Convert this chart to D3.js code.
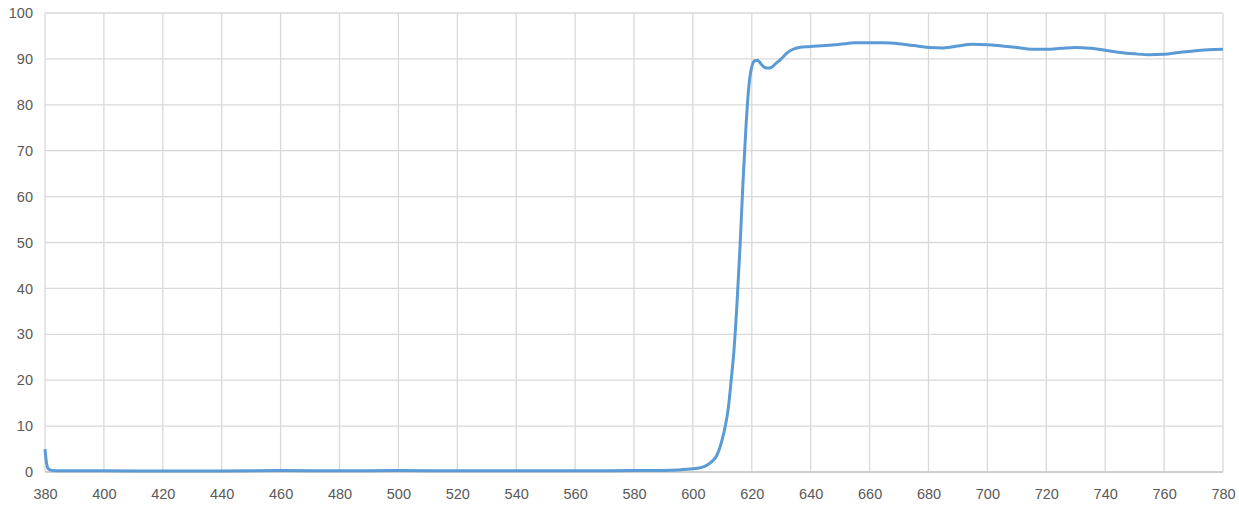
<!DOCTYPE html>
<html>
<head>
<meta charset="utf-8">
<script src="https://cdn.jsdelivr.net/npm/d3@7"></script>
<style>
  html, body { margin: 0; padding: 0; background: #ffffff; }
  svg { display: block; }
  .tick text { font-family: "Liberation Sans", "DejaVu Sans", sans-serif; font-size: 14.5px; fill: #595959; }
</style>
</head>
<body>
<svg id="chart" width="1239" height="511"></svg>
<script>
const wavelengths = [380,380.5,381,382,384,400,420,440,460,480,500,520,540,560,580,590,595,600,603,605,607,608,609,610,611,612,613,614,615,616,617,618,619,620,621,622,623,624,625,626,627,628,630,632,634,636,640,645,650,655,660,665,670,675,680,685,690,695,700,705,710,715,720,725,730,735,740,745,750,755,760,765,770,775,780];
const transmittance = [5.0,2.0,0.8,0.4,0.25,0.25,0.2,0.2,0.3,0.25,0.3,0.25,0.25,0.25,0.3,0.35,0.45,0.7,1.0,1.6,2.6,3.5,5.0,7.2,10.0,13.8,20,27,37,49,63,75,84,88.3,89.6,89.7,89.0,88.3,88.0,88.0,88.3,88.9,90.0,91.3,92.1,92.5,92.7,92.9,93.2,93.5,93.5,93.5,93.3,92.9,92.5,92.4,92.8,93.2,93.1,92.8,92.5,92.1,92.1,92.3,92.5,92.3,91.9,91.4,91.1,90.9,91.0,91.4,91.7,92.0,92.1];
const xTicks = d3.range(380, 781, 20);
const yTicks = d3.range(0, 101, 10);

const svg = d3.select("#chart");
const W = 1239, H = 511;
const m = {left: 45, right: 16, top: 13, bottom: 39};

const x = d3.scaleLinear().domain([380, 780]).range([m.left, W - m.right]);
const y = d3.scaleLinear().domain([0, 100]).range([H - m.bottom, m.top]);

// gridlines
svg.append("g").selectAll("line.v").data(xTicks).join("line")
  .attr("x1", d => x(d)).attr("x2", d => x(d))
  .attr("y1", y(0)).attr("y2", y(100))
  .attr("stroke", "#d9d9d9").attr("stroke-width", 1.3);
svg.append("g").selectAll("line.h").data(yTicks).join("line")
  .attr("x1", x(380)).attr("x2", x(780))
  .attr("y1", d => y(d)).attr("y2", d => y(d))
  .attr("stroke", d => d === 0 ? "#bfbfbf" : "#d9d9d9").attr("stroke-width", 1.3);

// axes
const xAxis = svg.append("g").attr("transform", `translate(0,${y(0)})`)
  .call(d3.axisBottom(x).tickValues(xTicks).tickSize(0).tickPadding(17));
xAxis.select(".domain").remove();

const yAxis = svg.append("g").attr("transform", `translate(${m.left},0)`)
  .call(d3.axisLeft(y).tickValues(yTicks).tickSize(0).tickPadding(12));
yAxis.select(".domain").remove();

// line
const data = wavelengths.map((w, i) => [w, transmittance[i]]);
svg.append("path").datum(data)
  .attr("fill", "none")
  .attr("stroke", "#5b9bd5")
  .attr("stroke-width", 3)
  .attr("stroke-linejoin", "round")
  .attr("d", d3.line().x(d => x(d[0])).y(d => y(d[1])).curve(d3.curveMonotoneX));
</script>
</body>
</html>
